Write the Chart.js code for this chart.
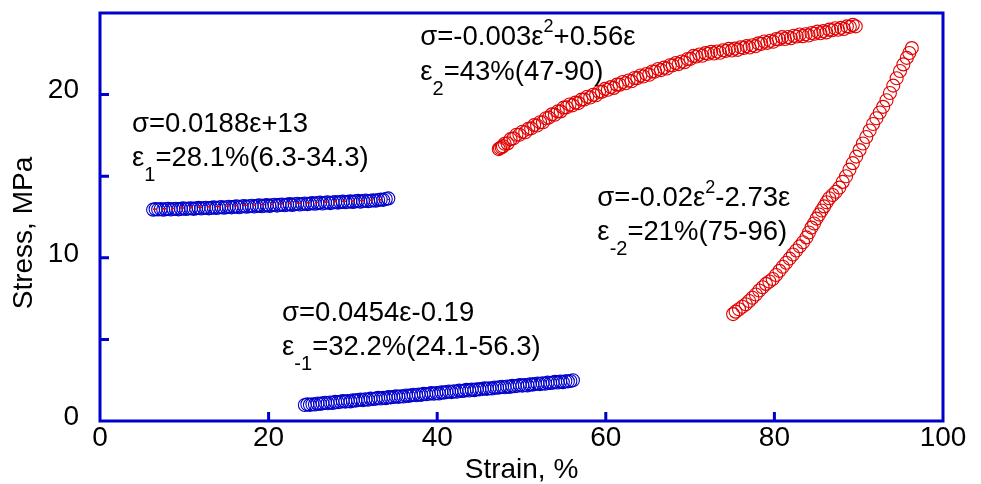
<!DOCTYPE html>
<html>
<head>
<meta charset="utf-8">
<script src="https://cdn.jsdelivr.net/npm/chart.js@4.4.1/dist/chart.umd.min.js"></script>
<style>
  html, body { margin: 0; padding: 0; background: #fff; }
  canvas { display: block; }
</style>
</head>
<body>
<canvas id="chart" width="981" height="484"></canvas>
<script>
// region 1 (blue, top left)
const strain1 = [6.3, 6.6, 6.9, 7.2, 7.5, 7.8, 8.1, 8.4, 8.7, 9.0, 9.3, 9.6, 9.9, 10.2, 10.5, 10.8, 11.1, 11.4, 11.7, 12.0,
  12.3, 12.6, 12.9, 13.2, 13.5, 13.8, 14.1, 14.4, 14.7, 15.0, 15.3, 15.6, 15.9, 16.2, 16.5, 16.8, 17.1, 17.4, 17.7, 18.0,
  18.3, 18.6, 18.9, 19.2, 19.5, 19.8, 20.1, 20.4, 20.7, 21.0, 21.3, 21.6, 21.9, 22.2, 22.5, 22.8, 23.1, 23.4, 23.7, 24.0,
  24.3, 24.6, 24.9, 25.2, 25.5, 25.8, 26.1, 26.4, 26.7, 27.0, 27.3, 27.6, 27.9, 28.2, 28.5, 28.8, 29.1, 29.4, 29.7, 30.0,
  30.3, 30.6, 30.9, 31.2, 31.5, 31.8, 32.1, 32.4, 32.7, 33.0, 33.3, 33.6, 33.9, 34.2];
const stress1 = [12.95, 12.98, 12.96, 12.99, 12.94, 12.98, 13.00, 12.96, 12.99, 13.01, 12.97, 13.00, 13.03, 12.99, 13.02, 13.04, 13.00, 13.03, 13.06, 13.02,
  13.05, 13.07, 13.03, 13.06, 13.09, 13.05, 13.08, 13.11, 13.07, 13.10, 13.13, 13.09, 13.12, 13.15, 13.10, 13.14, 13.17, 13.13, 13.16, 13.19,
  13.14, 13.18, 13.21, 13.16, 13.20, 13.23, 13.18, 13.22, 13.25, 13.20, 13.24, 13.27, 13.22, 13.26, 13.29, 13.24, 13.28, 13.31, 13.27, 13.30,
  13.33, 13.29, 13.32, 13.35, 13.31, 13.35, 13.38, 13.33, 13.37, 13.40, 13.35, 13.39, 13.42, 13.38, 13.41, 13.44, 13.40, 13.43, 13.46, 13.42,
  13.46, 13.49, 13.44, 13.48, 13.51, 13.47, 13.50, 13.53, 13.50, 13.54, 13.57, 13.55, 13.60, 13.64];
const fitStrain1 = [6.3, 34.3];
const fitStress1 = [12.98, 13.58];

// region -1 (blue, bottom)
const strain2 = [24.3, 24.6, 24.9, 25.2, 25.5, 25.8, 26.1, 26.4, 26.7, 27.0, 27.3, 27.6, 27.9, 28.2, 28.5, 28.8, 29.1, 29.4, 29.7, 30.0,
  30.3, 30.6, 30.9, 31.2, 31.5, 31.8, 32.1, 32.4, 32.7, 33.0, 33.3, 33.6, 33.9, 34.2, 34.5, 34.8, 35.1, 35.4, 35.7, 36.0,
  36.3, 36.6, 36.9, 37.2, 37.5, 37.8, 38.1, 38.4, 38.7, 39.0, 39.3, 39.6, 39.9, 40.2, 40.5, 40.8, 41.1, 41.4, 41.7, 42.0,
  42.3, 42.6, 42.9, 43.2, 43.5, 43.8, 44.1, 44.4, 44.7, 45.0, 45.3, 45.6, 45.9, 46.2, 46.5, 46.8, 47.1, 47.4, 47.7, 48.0,
  48.3, 48.6, 48.9, 49.2, 49.5, 49.8, 50.1, 50.4, 50.7, 51.0, 51.3, 51.6, 51.9, 52.2, 52.5, 52.8, 53.1, 53.4, 53.7, 54.0,
  54.3, 54.6, 54.9, 55.2, 55.5, 55.8, 56.1];
const stress2 = [0.98, 1.02, 0.99, 1.03, 1.01, 1.07, 1.05, 1.08, 1.12, 1.09, 1.13, 1.10, 1.17, 1.15, 1.18, 1.22, 1.19, 1.23, 1.20, 1.27,
  1.25, 1.28, 1.32, 1.28, 1.33, 1.30, 1.37, 1.35, 1.37, 1.42, 1.38, 1.42, 1.40, 1.46, 1.45, 1.47, 1.51, 1.48, 1.52, 1.50,
  1.56, 1.54, 1.57, 1.61, 1.58, 1.62, 1.60, 1.66, 1.64, 1.67, 1.71, 1.67, 1.72, 1.69, 1.76, 1.74, 1.77, 1.81, 1.77, 1.82,
  1.79, 1.86, 1.84, 1.86, 1.91, 1.87, 1.92, 1.89, 1.95, 1.94, 1.96, 2.00, 1.97, 2.01, 1.99, 2.05, 2.04, 2.06, 2.10, 2.07,
  2.11, 2.09, 2.15, 2.13, 2.16, 2.20, 2.17, 2.21, 2.18, 2.25, 2.23, 2.26, 2.30, 2.26, 2.31, 2.28, 2.35, 2.33, 2.35, 2.40,
  2.36, 2.41, 2.38, 2.44, 2.43, 2.45, 2.50];

// region 2 (red, top)
const strain3 = [47.30, 47.45, 47.65, 47.80, 48.00, 48.35, 48.70, 49.05, 49.40, 49.75, 50.10, 50.45, 50.80, 51.15, 51.50, 51.85, 52.20, 52.55, 52.90, 53.25, 53.60, 53.95,
  54.30, 54.65, 55.00, 55.35, 55.70, 56.05, 56.40, 56.75, 57.10, 57.45, 57.80, 58.15, 58.50, 58.85, 59.20, 59.55, 59.90, 60.25, 60.60, 60.95,
  61.30, 61.65, 62.00, 62.35, 62.70, 63.05, 63.40, 63.75, 64.10, 64.45, 64.80, 65.15, 65.50, 65.85, 66.20, 66.55, 66.90, 67.25, 67.60, 67.95,
  68.30, 68.65, 69.00, 69.35, 69.70, 70.05, 70.40, 70.75, 71.10, 71.45, 71.80, 72.15, 72.50, 72.85, 73.20, 73.55, 73.90, 74.25, 74.60, 74.95,
  75.30, 75.65, 76.00, 76.35, 76.70, 77.05, 77.40, 77.75, 78.10, 78.45, 78.80, 79.15, 79.50, 79.85, 80.20, 80.55, 80.90, 81.25, 81.60, 81.95,
  82.30, 82.65, 83.00, 83.35, 83.70, 84.05, 84.40, 84.75, 85.10, 85.45, 85.80, 86.15, 86.50, 86.85, 87.20, 87.55, 87.90, 88.25, 88.60, 88.95,
  89.30, 89.65];
const stress3 = [16.66, 16.72, 16.77, 16.84, 16.99, 17.01, 17.27, 17.32, 17.54, 17.54, 17.72, 17.69, 17.90, 17.93, 18.13, 18.11, 18.31, 18.31, 18.55, 18.59, 18.79, 18.77,
  18.97, 18.97, 19.20, 19.22, 19.39, 19.34, 19.51, 19.48, 19.69, 19.70, 19.87, 19.82, 19.99, 19.96, 20.17, 20.18, 20.35, 20.30, 20.46, 20.41,
  20.61, 20.61, 20.77, 20.70, 20.86, 20.82, 21.02, 21.01, 21.17, 21.11, 21.26, 21.22, 21.42, 21.41, 21.57, 21.50, 21.65, 21.60, 21.80, 21.79,
  21.94, 21.87, 22.03, 21.98, 22.18, 22.19, 22.37, 22.33, 22.46, 22.38, 22.54, 22.50, 22.62, 22.52, 22.64, 22.56, 22.72, 22.68, 22.80, 22.70,
  22.82, 22.74, 22.90, 22.86, 22.97, 22.89, 23.02, 22.96, 23.14, 23.11, 23.25, 23.17, 23.30, 23.24, 23.41, 23.39, 23.52, 23.41, 23.53, 23.45,
  23.61, 23.56, 23.68, 23.58, 23.70, 23.62, 23.77, 23.73, 23.86, 23.76, 23.89, 23.81, 23.98, 23.94, 24.07, 23.97, 24.09, 24.02, 24.18, 24.15,
  24.27, 24.18];

// region -2 (red, right)
const strain4 = [75.1, 75.4, 75.8, 76.2, 76.6, 77.0, 77.4, 77.8, 78.2, 78.6, 79.0, 79.4, 79.8, 80.2, 80.6, 81.0, 81.4, 81.8, 82.2, 82.6,
  83.0, 83.4, 83.8, 84.1, 84.4, 84.7, 85.0, 85.3, 85.6, 85.9, 86.2, 86.5, 86.9, 87.3, 87.7, 88.1, 88.5, 88.9, 89.3, 89.7,
  90.1, 90.5, 90.9, 91.3, 91.7, 92.1, 92.5, 92.9, 93.3, 93.7, 94.1, 94.5, 94.9, 95.3, 95.7, 96.0, 96.3];
const stress4 = [6.55, 6.70, 6.85, 7.00, 7.15, 7.35, 7.55, 7.75, 8.00, 8.20, 8.40, 8.55, 8.70, 8.95, 9.20, 9.45, 9.70, 9.95, 10.20, 10.45,
  10.70, 10.95, 11.25, 11.55, 11.85, 12.10, 12.40, 12.65, 12.90, 13.15, 13.40, 13.65, 13.85, 14.05, 14.30, 14.65, 15.00, 15.40, 15.80, 16.20,
  16.60, 17.00, 17.40, 17.80, 18.20, 18.55, 18.90, 19.25, 19.65, 20.10, 20.55, 21.00, 21.45, 21.85, 22.25, 22.55, 22.85];

const xTicks = [0, 20, 40, 60, 80, 100];
const yTicks = [0, 5, 10, 15, 20, 25];
const yLabelled = [0, 10, 20];

// annotation texts: [strain, stress] anchor of each line, pieces as [text, kind]
const notes = [
  { at: [3.8, 17.70], parts: [['σ=0.0188ε+13', 'n']] },
  { at: [3.8, 15.62], parts: [['ε', 'n'], ['1', 'sub'], ['=28.1%(6.3-34.3)', 'n']] },
  { at: [38.0, 23.03], parts: [['σ=-0.003ε', 'n'], ['2', 'sup'], ['+0.56ε', 'n']] },
  { at: [38.0, 20.88], parts: [['ε', 'n'], ['2', 'sub'], ['=43%(47-90)', 'n']] },
  { at: [59.0, 13.17], parts: [['σ=-0.02ε', 'n'], ['2', 'sup'], ['-2.73ε', 'n']] },
  { at: [59.0, 11.08], parts: [['ε', 'n'], ['-2', 'sub'], ['=21%(75-96)', 'n']] },
  { at: [21.6, 6.12], parts: [['σ=0.0454ε-0.19', 'n']] },
  { at: [21.6, 4.04], parts: [['ε', 'n'], ['-1', 'sub'], ['=32.2%(24.1-56.3)', 'n']] }
];

const BLUE = '#0000cc';
const RED = '#e00000';
const FONT = "'Liberation Sans', Arial, sans-serif";

const pts = (xs, ys) => xs.map((x, i) => ({ x: x, y: ys[i] }));

const frame = {
  id: 'frame',
  afterDatasetsDraw(chart) {
    const { ctx, chartArea: a, scales: { x, y } } = chart;
    ctx.save();
    ctx.strokeStyle = BLUE;
    ctx.lineWidth = 3;
    ctx.strokeRect(a.left, a.top, a.right - a.left, a.bottom - a.top);
    // inward ticks
    ctx.beginPath();
    yTicks.slice(1, -1).forEach(v => {
      const py = y.getPixelForValue(v);
      ctx.moveTo(a.left, py);
      ctx.lineTo(a.left + 9, py);
    });
    xTicks.slice(1, -1).forEach(v => {
      const px = x.getPixelForValue(v);
      ctx.moveTo(px, a.bottom);
      ctx.lineTo(px, a.bottom - 9);
    });
    ctx.stroke();

    // y title
    ctx.fillStyle = '#000';
    ctx.font = '28px ' + FONT;
    ctx.textAlign = 'center';
    ctx.textBaseline = 'middle';
    ctx.translate(24, (a.top + a.bottom) / 2 + 16);
    ctx.rotate(-Math.PI / 2);
    ctx.fillText('Stress, MPa', 0, 0);
    ctx.restore();

    // annotations
    ctx.save();
    ctx.fillStyle = '#000';
    ctx.textAlign = 'left';
    ctx.textBaseline = 'alphabetic';
    notes.forEach(n => {
      let px = x.getPixelForValue(n.at[0]);
      const py = y.getPixelForValue(n.at[1]);
      n.parts.forEach(([t, kind]) => {
        let dy = 0;
        if (kind === 'sub') { ctx.font = '20px ' + FONT; dy = 15; }
        else if (kind === 'sup') { ctx.font = '18px ' + FONT; dy = -13; }
        else ctx.font = '27.5px ' + FONT;
        ctx.fillText(t, px, py + dy);
        px += ctx.measureText(t).width;
      });
    });
    ctx.restore();
  }
};

const circles = (data, color, r) => ({
  data: data,
  showLine: false,
  pointStyle: 'circle',
  pointRadius: r,
  pointHoverRadius: r,
  pointBorderWidth: 1.1,
  borderColor: color,
  backgroundColor: 'rgba(0,0,0,0)',
  pointBackgroundColor: 'rgba(0,0,0,0)'
});

Chart.defaults.font.family = FONT;
Chart.defaults.color = '#000';

new Chart(document.getElementById('chart'), {
  type: 'scatter',
  data: {
    datasets: [
      {
        type: 'line',
        data: pts(fitStrain1, fitStress1),
        borderColor: RED,
        borderWidth: 1.5,
        borderDash: [4, 5],
        pointRadius: 0,
        fill: false
      },
      circles(pts(strain1, stress1), BLUE, 6.5),
      circles(pts(strain2, stress2), BLUE, 6.5),
      circles(pts(strain3, stress3), RED, 6.5),
      circles(pts(strain4, stress4), RED, 6.5)
    ]
  },
  options: {
    responsive: false,
    animation: false,
    layout: { autoPadding: false, padding: { left: 0, right: 38, top: 13, bottom: 0 } },
    plugins: { legend: { display: false }, tooltip: { enabled: false } },
    scales: {
      x: {
        type: 'linear',
        min: 0,
        max: 100,
        afterFit: s => { s.height = 63; s.paddingLeft = 0; s.paddingRight = 0; },
        afterBuildTicks: s => { s.ticks = xTicks.map(v => ({ value: v })); },
        grid: { display: false, drawTicks: false },
        border: { display: false },
        ticks: { font: { size: 28 }, padding: 0, maxRotation: 0 },
        title: { display: true, text: 'Strain, %', font: { size: 28, lineHeight: 1 }, padding: { top: 0, bottom: 0 } }
      },
      y: {
        type: 'linear',
        min: 0,
        max: 25,
        afterFit: s => { s.width = 100; s.paddingTop = 0; s.paddingBottom = 0; },
        afterBuildTicks: s => { s.ticks = yTicks.map(v => ({ value: v })); },
        grid: { display: false, drawTicks: false },
        border: { display: false },
        ticks: {
          font: { size: 28 },
          padding: 21,
          labelOffset: -4,
          callback: v => (yLabelled.includes(v) ? String(v) : null)
        }
      }
    }
  },
  plugins: [frame]
});
</script>
</body>
</html>
